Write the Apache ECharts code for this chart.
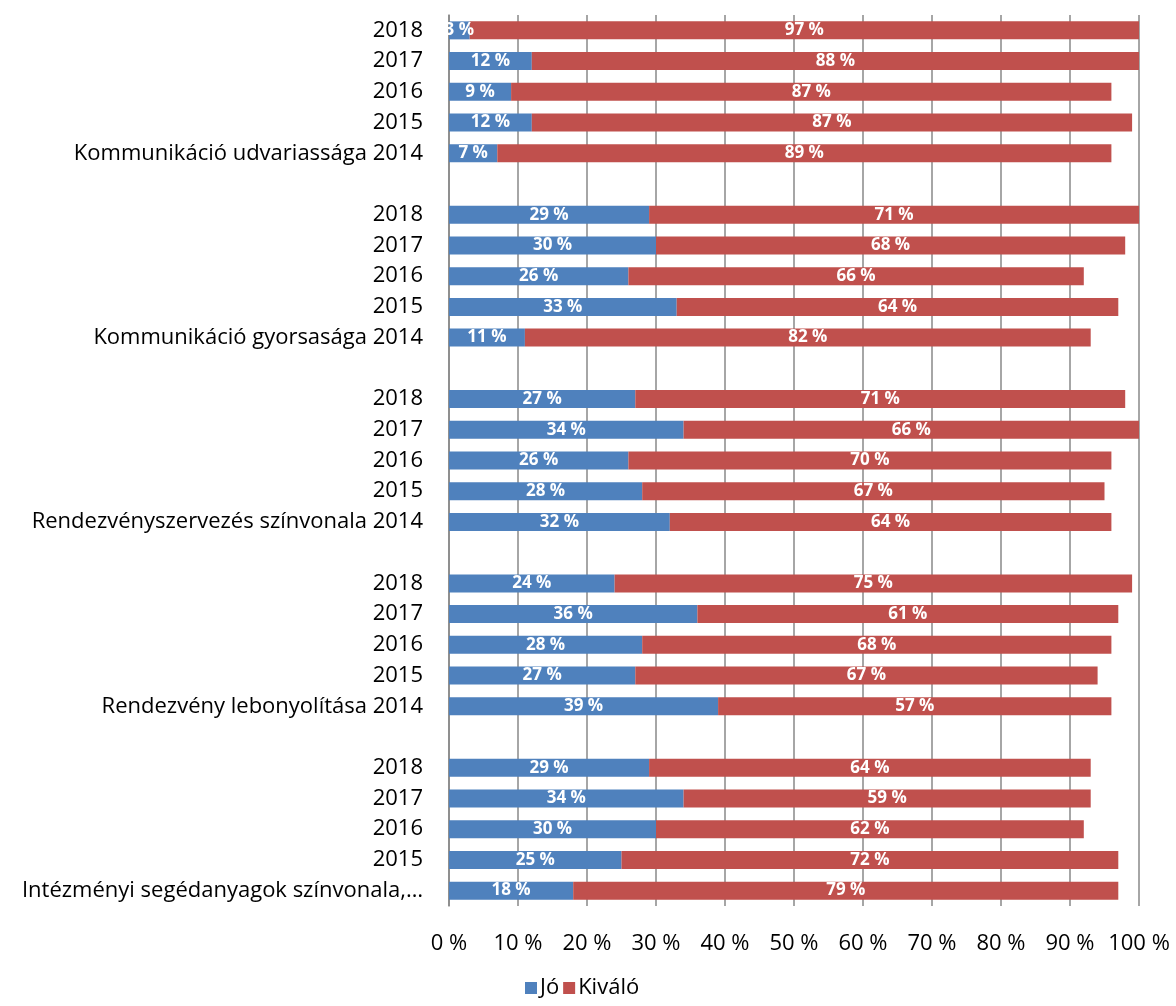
<!DOCTYPE html>
<html><head><meta charset="utf-8">
<script src="https://cdn.jsdelivr.net/npm/echarts@6/dist/echarts.min.js"></script>
<style>html,body{margin:0;padding:0;background:#fff}#c{width:1176px;height:1006px}</style>
</head><body><div id="c"></div>
<script>
// categories bottom -> top
var categories = [
 'Intézményi segédanyagok színvonala,…','2015','2016','2017','2018','',
 'Rendezvény lebonyolítása 2014','2015','2016','2017','2018','',
 'Rendezvényszervezés színvonala 2014','2015','2016','2017','2018','',
 'Kommunikáció gyorsasága 2014','2015','2016','2017','2018','',
 'Kommunikáció udvariassága 2014','2015','2016','2017','2018'
];
var jo = [18,25,30,34,29,'-', 39,27,28,36,24,'-', 32,28,26,34,27,'-', 11,33,26,30,29,'-', 7,12,9,12,3];
var kivalo = [79,72,62,59,64,'-', 57,67,68,61,75,'-', 64,67,70,66,71,'-', 82,64,66,68,71,'-', 89,87,87,88,97];
var xTicks = [0,10,20,30,40,50,60,70,80,90,100];

var FONT = 'Open Sans';
var chart = echarts.init(document.getElementById('c'));
var lbl = {show:true, position:'inside', color:'#fff', fontFamily:FONT, fontWeight:'bold', fontSize:17, formatter:'{c} %'};
chart.setOption({
  animation:false,
  grid:{left:449, right:37, top:15, bottom:100, containLabel:false},
  legend:{bottom:2, left:520, itemWidth:12, itemHeight:12, itemGap:4,
    textStyle:{fontFamily:FONT, fontSize:22, color:'#000', padding:[0,0,0,-2]},
    icon:'rect', data:['Jó','Kiváló']},
  xAxis:{type:'value', min:0, max:100, interval:10,
    axisLabel:{formatter:'{value} %', fontFamily:FONT, fontSize:22, color:'#000', margin:27},
    splitLine:{show:true, lineStyle:{color:'#888', width:1.5}},
    axisLine:{show:false}, axisTick:{show:false}},
  yAxis:{type:'category', data:categories,
    axisLabel:{fontFamily:FONT, fontSize:22, color:'#000', margin:26, interval:0},
    axisLine:{show:true, lineStyle:{color:'#888', width:1.5}},
    axisTick:{show:false}},
  series:[
    {name:'Jó', type:'bar', stack:'a', data:jo, barWidth:18, itemStyle:{color:'#4F81BD'}, label:lbl},
    {name:'Kiváló', type:'bar', stack:'a', data:kivalo, barWidth:18, itemStyle:{color:'#C0504D'}, label:lbl}
  ]
});
</script></body></html>
